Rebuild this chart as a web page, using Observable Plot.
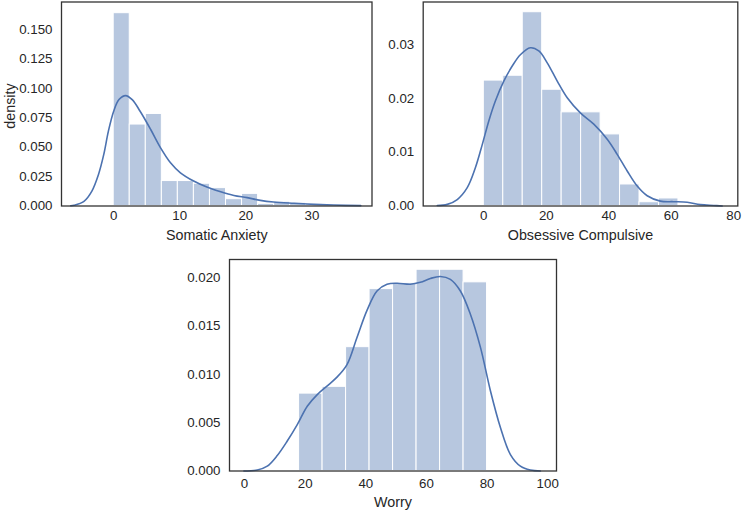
<!DOCTYPE html>
<html>
<head>
<meta charset="utf-8">
<script src="https://cdn.jsdelivr.net/npm/d3@7"></script>
<script src="https://cdn.jsdelivr.net/npm/@observablehq/plot@0.6"></script>
<style>
  html, body { margin: 0; padding: 0; background: white; }
  #wrap { position: relative; width: 742px; height: 512px; overflow: hidden; background: white; }
  #wrap > svg { position: absolute; }
</style>
</head>
<body>
<div id="wrap"></div>
<script>
// ---------- Somatic Anxiety ----------
const somaticBinEdges = [0, 2.43, 4.86, 7.29, 9.71, 12.14, 14.57, 17.0, 19.43, 21.86, 24.29, 26.71, 29.14, 31.57, 34.0];
const somaticBinDensity = [0.1638, 0.0692, 0.0782, 0.0212, 0.0212, 0.0189, 0.0152, 0.0058, 0.0103, 0.0018, 0.0036, 0.0027, 0.0015, 0.0008];
const somaticKdeX = [-6.5, -6.0, -4.5, -3.3, -2.3, -1.5, -0.8, 0, 0.8, 1.8, 2.8, 4.0, 5.6, 7.1, 8.6, 10.1, 12.1, 14.1, 16.2, 18.2, 20.2, 22.2, 24.2, 27.3, 30.3, 33.3, 37.4];
const somaticKdeY = [0.0002, 0.0006, 0.004, 0.0127, 0.0268, 0.0438, 0.0636, 0.0805, 0.0904, 0.0938, 0.0904, 0.0805, 0.065, 0.0494, 0.0367, 0.0282, 0.0212, 0.0161, 0.0121, 0.009, 0.0071, 0.0048, 0.0034, 0.0023, 0.0014, 0.0008, 0.0003];
const somaticXTicks = [0, 10, 20, 30];
const somaticYTicks = [0, 0.025, 0.05, 0.075, 0.1, 0.125, 0.15];

// ---------- Obsessive Compulsive ----------
const obsessiveBinEdges = [0, 6.23, 12.46, 18.69, 24.92, 31.15, 37.38, 43.61, 49.84, 56.07, 62.3];
const obsessiveBinDensity = [0.0233, 0.0242, 0.0360, 0.0216, 0.0174, 0.0174, 0.0133, 0.0040, 0.0007, 0.0014];
const obsessiveKdeX = [-14.9, -11.7, -8.5, -5.3, -2.7, -0.5, 1.6, 3.7, 6.4, 9.1, 11.7, 14.9, 17.6, 20.3, 23.5, 26.7, 30.9, 35.2, 39.5, 42.7, 45.9, 49.1, 52.3, 56.5, 60.8, 65.1, 69.3, 73.6, 76.3];
const obsessiveKdeY = [0.0001, 0.0003, 0.0012, 0.0034, 0.0071, 0.0114, 0.0158, 0.0195, 0.0232, 0.026, 0.0281, 0.0294, 0.0288, 0.0266, 0.0232, 0.0201, 0.0173, 0.0152, 0.0124, 0.0096, 0.0065, 0.0037, 0.0019, 0.0009, 0.0008, 0.0007, 0.00025, 0.0001, 0];
const obsessiveXTicks = [0, 20, 40, 60, 80];
const obsessiveYTicks = [0, 0.01, 0.02, 0.03];

// ---------- Worry ----------
const worryBinEdges = [18, 25.75, 33.5, 41.25, 49, 56.75, 64.5, 72.25, 80];
const worryBinDensity = [0.0080, 0.0087, 0.0128, 0.0188, 0.0194, 0.0208, 0.0208, 0.0195];
const worryKdeX = [-0.2, 4.2, 7.5, 10.8, 14.1, 17.4, 20.7, 24.0, 27.3, 30.5, 33.8, 37.1, 40.4, 43.7, 47.0, 50.3, 54.7, 58.0, 61.3, 64.6, 67.9, 71.2, 74.5, 77.8, 81.1, 84.4, 87.7, 91.0, 94.3, 97.6];
const worryKdeY = [0, 0.0001, 0.0005, 0.0016, 0.0031, 0.0048, 0.0067, 0.0079, 0.0088, 0.0097, 0.011, 0.0138, 0.0166, 0.0186, 0.0193, 0.0194, 0.0193, 0.0195, 0.0199, 0.0201, 0.0198, 0.0186, 0.0162, 0.0128, 0.0083, 0.0045, 0.0017, 0.0005, 0.0001, 0];
const worryXTicks = [0, 20, 40, 60, 80, 100];
const worryYTicks = [0, 0.005, 0.01, 0.015, 0.02];

const xLabels = ["Somatic Anxiety", "Obsessive Compulsive", "Worry"];
const yLabel = "density";

const BAR = "#4c72b0";
const TEXT = "#262626";

function panel(o) {
  const bins = o.dens.map((d, i) => ({x1: o.edges[i], x2: o.edges[i + 1], y: d}));
  const kde = o.kx.map((x, i) => ({x, y: o.ky[i]}));
  const marks = [
    Plot.rectY(bins, {x1: "x1", x2: "x2", y: "y", fill: BAR, fillOpacity: 0.4, stroke: "white", strokeWidth: 1}),
    Plot.line(kde, {x: "x", y: "y", stroke: BAR, strokeWidth: 1.6, curve: "catmull-rom"}),
    Plot.axisX({ticks: o.xTicks, tickSize: 0, tickPadding: o.xPad, label: null, tickFormat: d3.format("d"), fontSize: 13.3}),
    Plot.axisY({ticks: o.yTicks, tickSize: 0, tickPadding: 9, label: null, tickFormat: d3.format(o.yFmt), fontSize: 13.3}),
    Plot.text([o.xLabel], {text: d => d, frameAnchor: "bottom", textAnchor: "middle", dy: o.xLabelDy, fontSize: 14.3, fill: TEXT}),
    Plot.frame({stroke: "#333333", strokeWidth: 1.3})
  ];
  if (o.yLabel) {
    marks.push(Plot.text([o.yLabel], {text: d => d, frameAnchor: "left", textAnchor: "middle", rotate: -90, dx: o.yLabelDx, dy: 2, fontSize: 14.3, fill: TEXT}));
  }
  const svg = Plot.plot({
    width: o.width, height: o.height,
    marginLeft: o.ml, marginRight: o.mr, marginTop: o.mt, marginBottom: o.mb,
    x: {domain: o.xDomain},
    y: {domain: o.yDomain},
    style: {fontFamily: "'Liberation Sans', Arial, Helvetica, sans-serif", fontSize: "13.3px", color: TEXT, background: "transparent", overflow: "visible"},
    marks
  });
  svg.style.left = o.left + "px";
  svg.style.top = o.top + "px";
  document.getElementById("wrap").appendChild(svg);
}

panel({
  edges: somaticBinEdges, dens: somaticBinDensity, kx: somaticKdeX, ky: somaticKdeY,
  xTicks: somaticXTicks, yTicks: somaticYTicks, yFmt: ".3f",
  xDomain: [-7.9, 39.1], yDomain: [0, 0.1733],
  xLabel: xLabels[0], yLabel: yLabel, xLabelDy: 34, yLabelDx: -51, xPad: 5,
  left: 0, top: 0, width: 380, height: 250, ml: 61, mr: 8.5, mt: 1.5, mb: 44.5
});
panel({
  edges: obsessiveBinEdges, dens: obsessiveBinDensity, kx: obsessiveKdeX, ky: obsessiveKdeY,
  xTicks: obsessiveXTicks, yTicks: obsessiveYTicks, yFmt: ".2f",
  xDomain: [-19.4, 81.3], yDomain: [0, 0.0379],
  xLabel: xLabels[1], xLabelDy: 34, xPad: 5,
  left: 370, top: 0, width: 372, height: 250, ml: 52.7, mr: 4.7, mt: 1.5, mb: 44.5
});
panel({
  edges: worryBinEdges, dens: worryBinDensity, kx: worryKdeX, ky: worryKdeY,
  xTicks: worryXTicks, yTicks: worryYTicks, yFmt: ".3f",
  xDomain: [-4.95, 102.9], yDomain: [0, 0.02186],
  xLabel: xLabels[2], xLabelDy: 36, xPad: 8,
  left: 180, top: 250, width: 400, height: 262, ml: 49, mr: 24, mt: 9, mb: 41.5
});
</script>
</body>
</html>
